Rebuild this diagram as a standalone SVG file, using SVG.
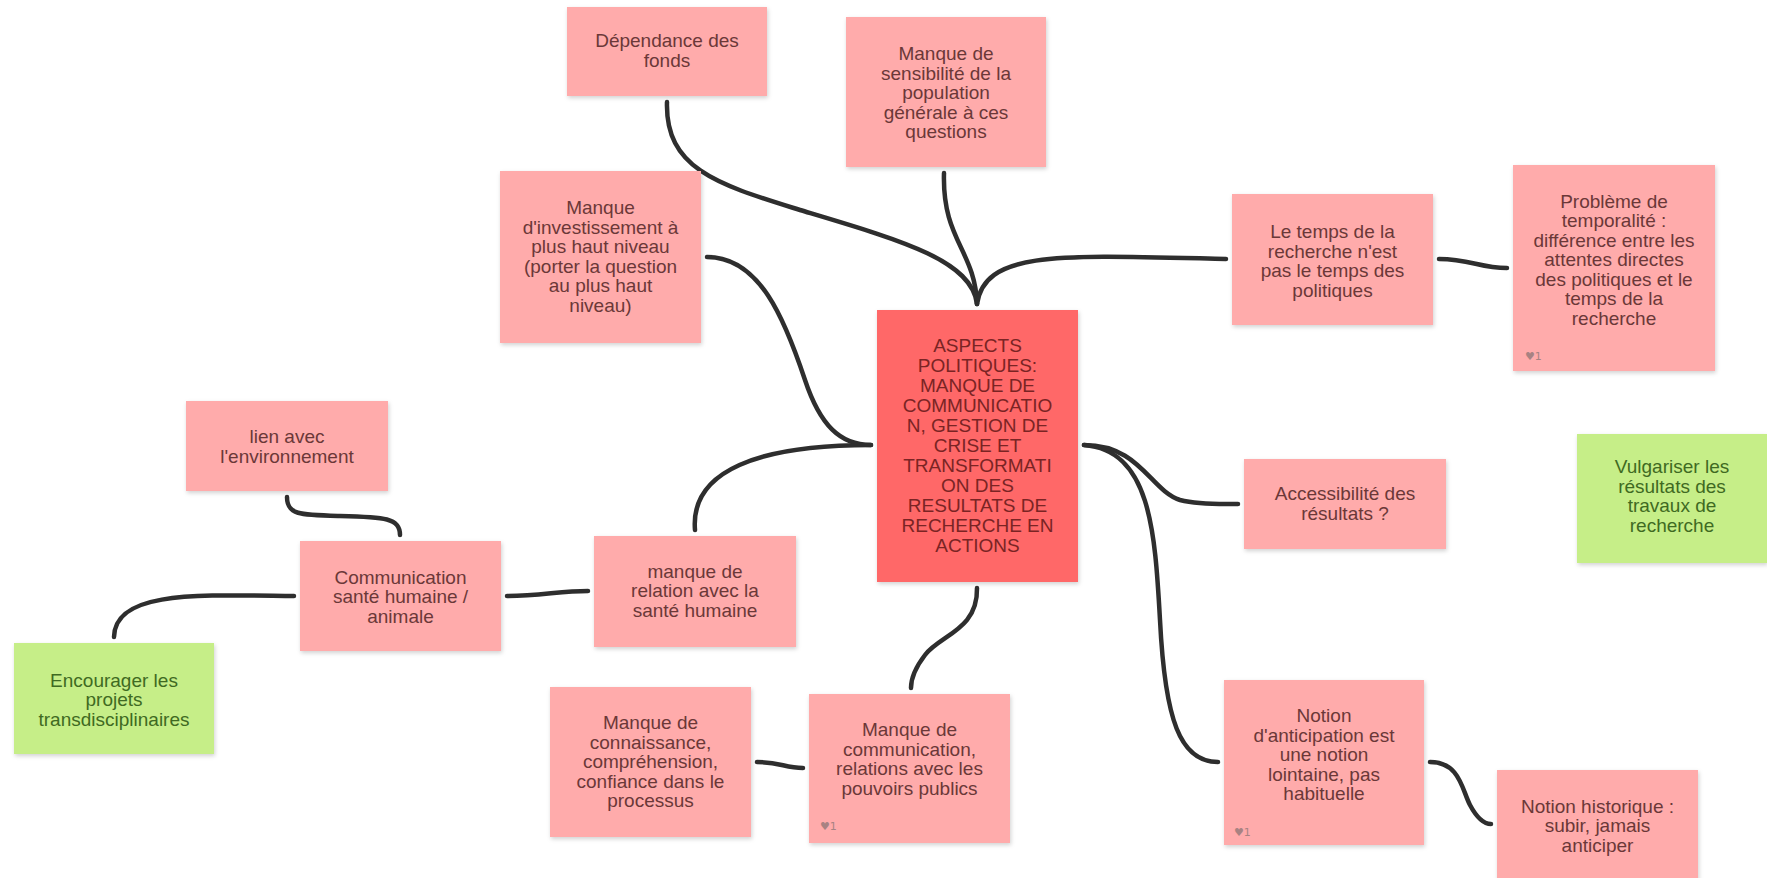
<svg xmlns="http://www.w3.org/2000/svg" width="1767" height="878" viewBox="0 0 1767 878">
<defs>
<filter id="sh" x="-10%" y="-10%" width="120%" height="125%">
<feDropShadow dx="1" dy="2" stdDeviation="2" flood-color="#000" flood-opacity="0.18"/>
</filter>
<style>
.pink{fill:#ffabab;filter:url(#sh)}
.main{fill:#ff6868;filter:url(#sh)}
.green{fill:#c6ee88;filter:url(#sh)}
.t{font-family:"Liberation Sans",Arial,sans-serif;font-size:19px;text-anchor:middle;fill:#6b3838}
.tm{font-family:"Liberation Sans",Arial,sans-serif;font-size:19px;text-anchor:middle;fill:#7a2424}
.tg{font-family:"Liberation Sans",Arial,sans-serif;font-size:19px;text-anchor:middle;fill:#3f6a22}
.like{font-family:"DejaVu Sans",sans-serif;font-size:11px;fill:#a88282}
.c{fill:none;stroke:#2e2e2e;stroke-width:4.5;stroke-linecap:round}
</style>
</defs>
<rect width="1767" height="878" fill="#ffffff"/>

<g id="connectors">
<path class="c" d="M667,102 C665,170 720,185 800,210 C900,240 972,260 977,304"/>
<path class="c" d="M944,173 C942,240 975,250 977,304"/>
<path class="c" d="M1226,259 C1060,255 985,250 977,304"/>
<path class="c" d="M707,257 C760,257 785,320 805,380 C820,425 840,445 871,445"/>
<path class="c" d="M695,530 C690,470 760,445 871,445"/>
<path class="c" d="M1084,445 C1140,445 1150,490 1180,500 C1200,505 1220,504 1238,504"/>
<path class="c" d="M1084,445 C1150,450 1155,530 1160,620 C1165,720 1180,762 1218,762"/>
<path class="c" d="M977,588 C978,630 940,635 925,655 C915,668 911,678 911,688"/>
<path class="c" d="M757,762 C780,762 785,768 803,768"/>
<path class="c" d="M507,596 C540,596 560,591 588,591"/>
<path class="c" d="M287,497 C287,515 300,515 340,516 C385,517 400,518 400,535"/>
<path class="c" d="M294,596 C200,595 115,590 114,637"/>
<path class="c" d="M1439,259 C1470,259 1480,268 1507,268"/>
<path class="c" d="M1430,762 C1460,762 1462,790 1470,805 C1478,820 1485,824 1491,824"/>
</g>

<g id="n-dependance">
<rect class="pink" x="567" y="7" width="200" height="89"/>
<text class="t" y="47"><tspan x="667">Dépendance des</tspan><tspan x="667" dy="19.5">fonds</tspan></text>
</g>

<g id="n-sensibilite">
<rect class="pink" x="846" y="17" width="200" height="150"/>
<text class="t" y="60"><tspan x="946">Manque de</tspan><tspan x="946" dy="19.5">sensibilité de la</tspan><tspan x="946" dy="19.5">population</tspan><tspan x="946" dy="19.5">générale à ces</tspan><tspan x="946" dy="19.5">questions</tspan></text>
</g>

<g id="n-investissement">
<rect class="pink" x="500" y="171" width="201" height="172"/>
<text class="t" y="214"><tspan x="600.5">Manque</tspan><tspan x="600.5" dy="19.5">d'investissement à</tspan><tspan x="600.5" dy="19.5">plus haut niveau</tspan><tspan x="600.5" dy="19.5">(porter la question</tspan><tspan x="600.5" dy="19.5">au plus haut</tspan><tspan x="600.5" dy="19.5">niveau)</tspan></text>
</g>

<g id="n-center">
<rect class="main" x="877" y="310" width="201" height="272"/>
<text class="tm" y="352"><tspan x="977.5">ASPECTS</tspan><tspan x="977.5" dy="20">POLITIQUES:</tspan><tspan x="977.5" dy="20">MANQUE DE</tspan><tspan x="977.5" dy="20">COMMUNICATIO</tspan><tspan x="977.5" dy="20">N, GESTION DE</tspan><tspan x="977.5" dy="20">CRISE ET</tspan><tspan x="977.5" dy="20">TRANSFORMATI</tspan><tspan x="977.5" dy="20">ON DES</tspan><tspan x="977.5" dy="20">RESULTATS DE</tspan><tspan x="977.5" dy="20">RECHERCHE EN</tspan><tspan x="977.5" dy="20">ACTIONS</tspan></text>
</g>

<g id="n-temps">
<rect class="pink" x="1232" y="194" width="201" height="131"/>
<text class="t" y="238"><tspan x="1332.5">Le temps de la</tspan><tspan x="1332.5" dy="19.5">recherche n'est</tspan><tspan x="1332.5" dy="19.5">pas le temps des</tspan><tspan x="1332.5" dy="19.5">politiques</tspan></text>
</g>

<g id="n-temporalite">
<rect class="pink" x="1513" y="165" width="202" height="206"/>
<text class="t" y="207.5"><tspan x="1614">Problème de</tspan><tspan x="1614" dy="19.5">temporalité :</tspan><tspan x="1614" dy="19.5">différence entre les</tspan><tspan x="1614" dy="19.5">attentes directes</tspan><tspan x="1614" dy="19.5">des politiques et le</tspan><tspan x="1614" dy="19.5">temps de la</tspan><tspan x="1614" dy="19.5">recherche</tspan></text>
<text class="like" x="1525" y="360">♥1</text>
</g>

<g id="n-accessibilite">
<rect class="pink" x="1244" y="459" width="202" height="90"/>
<text class="t" y="500"><tspan x="1345">Accessibilité des</tspan><tspan x="1345" dy="19.5">résultats ?</tspan></text>
</g>

<g id="n-vulgariser">
<rect class="green" x="1577" y="434" width="190" height="129"/>
<text class="tg" y="473"><tspan x="1672">Vulgariser les</tspan><tspan x="1672" dy="19.5">résultats des</tspan><tspan x="1672" dy="19.5">travaux de</tspan><tspan x="1672" dy="19.5">recherche</tspan></text>
</g>

<g id="n-anticipation">
<rect class="pink" x="1224" y="680" width="200" height="165"/>
<text class="t" y="722"><tspan x="1324">Notion</tspan><tspan x="1324" dy="19.5">d'anticipation est</tspan><tspan x="1324" dy="19.5">une notion</tspan><tspan x="1324" dy="19.5">lointaine, pas</tspan><tspan x="1324" dy="19.5">habituelle</tspan></text>
<text class="like" x="1234" y="836">♥1</text>
</g>

<g id="n-historique">
<rect class="pink" x="1497" y="770" width="201" height="112"/>
<text class="t" y="812.5"><tspan x="1597.5">Notion historique :</tspan><tspan x="1597.5" dy="19.5">subir, jamais</tspan><tspan x="1597.5" dy="19.5">anticiper</tspan></text>
</g>

<g id="n-pouvoirs">
<rect class="pink" x="809" y="694" width="201" height="149"/>
<text class="t" y="736"><tspan x="909.5">Manque de</tspan><tspan x="909.5" dy="19.5">communication,</tspan><tspan x="909.5" dy="19.5">relations avec les</tspan><tspan x="909.5" dy="19.5">pouvoirs publics</tspan></text>
<text class="like" x="820" y="830">♥1</text>
</g>

<g id="n-connaissance">
<rect class="pink" x="550" y="687" width="201" height="150"/>
<text class="t" y="729"><tspan x="650.5">Manque de</tspan><tspan x="650.5" dy="19.5">connaissance,</tspan><tspan x="650.5" dy="19.5">compréhension,</tspan><tspan x="650.5" dy="19.5">confiance dans le</tspan><tspan x="650.5" dy="19.5">processus</tspan></text>
</g>

<g id="n-relation">
<rect class="pink" x="594" y="536" width="202" height="111"/>
<text class="t" y="577.5"><tspan x="695">manque de</tspan><tspan x="695" dy="19.5">relation avec la</tspan><tspan x="695" dy="19.5">santé humaine</tspan></text>
</g>

<g id="n-communication">
<rect class="pink" x="300" y="541" width="201" height="110"/>
<text class="t" y="583.5"><tspan x="400.5">Communication</tspan><tspan x="400.5" dy="19.5">santé humaine /</tspan><tspan x="400.5" dy="19.5">animale</tspan></text>
</g>

<g id="n-lien">
<rect class="pink" x="186" y="401" width="202" height="90"/>
<text class="t" y="443"><tspan x="287">lien avec</tspan><tspan x="287" dy="19.5">l'environnement</tspan></text>
</g>

<g id="n-encourager">
<rect class="green" x="14" y="643" width="200" height="111"/>
<text class="tg" y="686.5"><tspan x="114">Encourager les</tspan><tspan x="114" dy="19.5">projets</tspan><tspan x="114" dy="19.5">transdisciplinaires</tspan></text>
</g>
</svg>
